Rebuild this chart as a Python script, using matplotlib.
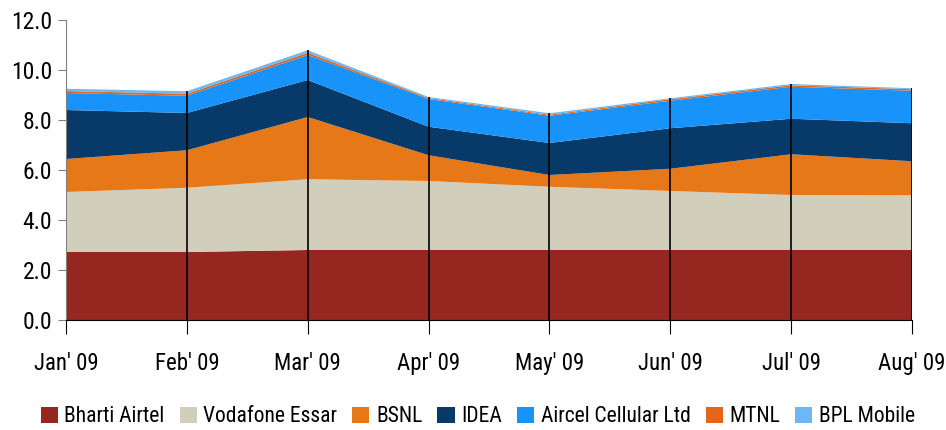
import matplotlib
matplotlib.use('Agg')
import matplotlib.pyplot as plt
from matplotlib import font_manager
from matplotlib.patches import Patch
import numpy as np

# pick a narrow sans face if one is installed
installed = {f.name for f in font_manager.fontManager.ttflist}
narrow = [n for n in ['Liberation Sans Narrow', 'DejaVu Sans Condensed', 'Roboto Condensed', 'Open Sans Condensed']
          if n in installed]
plt.rcParams['font.family'] = narrow + ['Roboto', 'DejaVu Sans']

# months and subscriber additions (millions) per operator
months = ["Jan' 09", "Feb' 09", "Mar' 09", "Apr' 09", "May' 09", "Jun' 09", "Jul' 09", "Aug' 09"]
airtel = [2.72, 2.72, 2.80, 2.80, 2.80, 2.80, 2.80, 2.80]
vodafone = [2.40, 2.57, 2.83, 2.76, 2.53, 2.36, 2.20, 2.19]
bsnl = [1.32, 1.50, 2.49, 1.03, 0.47, 0.89, 1.63, 1.36]
idea = [1.96, 1.49, 1.48, 1.14, 1.28, 1.62, 1.42, 1.52]
aircel = [0.68, 0.69, 1.00, 1.11, 1.09, 1.10, 1.28, 1.30]
mtnl = [0.08, 0.08, 0.09, 0.04, 0.04, 0.06, 0.06, 0.06]
bpl = [0.09, 0.10, 0.10, 0.04, 0.06, 0.04, 0.05, 0.04]

names = ['Bharti Airtel', 'Vodafone Essar', 'BSNL', 'IDEA', 'Aircel Cellular Ltd', 'MTNL', 'BPL Mobile']
series = [airtel, vodafone, bsnl, idea, aircel, mtnl, bpl]
colors = ['#952720', '#D1CFBC', '#E67817', '#073A69', '#1793FA', '#E5661A', '#6CB8F7']

fig = plt.figure(figsize=(9.46, 4.30), dpi=100)
ax = fig.add_axes([66 / 946, 1 - 320 / 430, (912 - 66) / 946, 300 / 430])

x = np.arange(len(months))
ax.stackplot(x, *series, colors=colors, linewidth=0)

# vertical drop lines at each month
totals = np.sum(series, axis=0)
ax.vlines(x[1:], 0, totals[1:], color='black', linewidth=1.2)

ax.set_xlim(0, len(months) - 1)
ax.set_ylim(0, 12)
ax.set_yticks(np.arange(0, 12.1, 2))
ax.set_yticklabels([f'{v:.1f}' for v in np.arange(0, 12.1, 2)])
ax.set_xticks(x)
ax.set_xticklabels(months)

for s in ['top', 'right']:
    ax.spines[s].set_visible(False)
ax.spines['left'].set_color('#808080')
ax.spines['bottom'].set_color('black')
ax.tick_params(axis='y', labelsize=17, length=6, color='#808080', pad=4)
ax.tick_params(axis='x', labelsize=16.5, length=10, color='black', pad=13)

handles = [Patch(facecolor=c, label=n) for c, n in zip(colors, names)]
fig.legend(handles=handles, loc='center', bbox_to_anchor=(0.505, 1 - 417 / 430),
           ncol=7, frameon=False, fontsize=15.5, handlelength=0.8, handleheight=0.8,
           handletextpad=0.3, columnspacing=0.7)

fig.savefig('out.png', dpi=100)
